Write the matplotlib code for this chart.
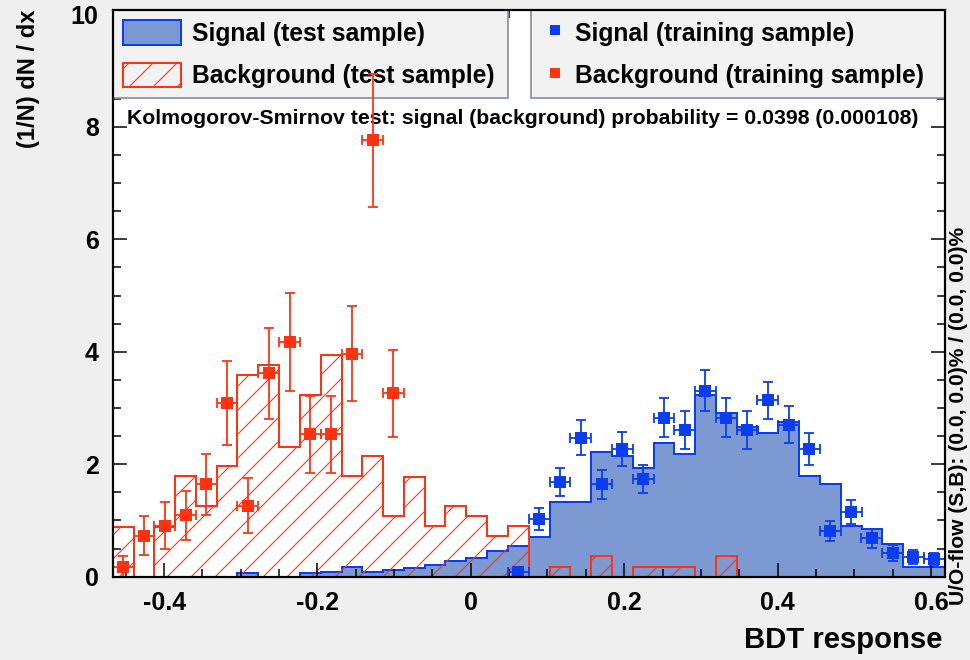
import numpy as np
import matplotlib
matplotlib.use("Agg")
import matplotlib.pyplot as plt
from matplotlib.patches import Patch
from matplotlib.lines import Line2D
from matplotlib.ticker import MultipleLocator

# ---------------- data ----------------
x_min, x_max, n_bins = -0.467, 0.618, 40

sig_test = [0, 0, 0, 0, 0, 0, 0.06, 0, 0, 0.06,
            0.09, 0.18, 0.09, 0.12, 0.15, 0.21, 0.28, 0.33, 0.46, 0.55,
            0.70, 1.32, 1.32, 2.21, 2.15, 1.94, 2.38, 2.18, 3.23, 2.91,
            2.67, 2.56, 2.76, 1.79, 1.64, 0.91, 0.85, 0.59, 0.18, 0.18]

bkg_test = [0.89, 0, 0.89, 1.79, 1.26, 1.97, 3.58, 3.77, 2.31, 3.23,
            3.94, 1.79, 2.14, 1.08, 1.78, 0.91, 1.26, 1.08, 0.73, 0.91,
            0, 0.18, 0, 0.36, 0, 0.18, 0.18, 0.18, 0, 0.36,
            0, 0, 0, 0, 0, 0, 0, 0, 0, 0]

bkg_train_bins = list(range(0, 14))
bkg_train = [0.18, 0.73, 0.91, 1.09, 1.64, 3.09, 1.26, 3.62, 4.17, 2.53,
             2.53, 3.97, 7.76, 3.26]
bkg_train_err = [0.18, 0.35, 0.41, 0.44, 0.55, 0.75, 0.49, 0.81, 0.87, 0.68,
                 0.68, 0.84, 1.19, 0.77]

sig_train_bins = list(range(19, 40))
sig_train = [0.09, 1.03, 1.68, 2.47, 1.64, 2.27, 1.73, 2.83, 2.61, 3.31,
             2.83, 2.61, 3.14, 2.70, 2.27, 0.81, 1.15, 0.68, 0.42, 0.35, 0.31]
sig_train_err = [0.09, 0.20, 0.25, 0.31, 0.25, 0.30, 0.25, 0.34, 0.33, 0.36,
                 0.34, 0.33, 0.33, 0.33, 0.29, 0.18, 0.21, 0.17, 0.14, 0.12, 0.11]

x_ticks = [-0.4, -0.2, 0, 0.2, 0.4, 0.6]
x_tick_labels = ["-0.4", "-0.2", "0", "0.2", "0.4", "0.6"]
y_ticks = [0, 2, 4, 6, 8, 10]
y_tick_labels = ["0", "2", "4", "6", "8", "10"]

ks_text = "Kolmogorov-Smirnov test: signal (background) probability = 0.0398 (0.000108)"
flow_text = "U/O-flow (S,B): (0.0, 0.0)% / (0.0, 0.0)%"

# ---------------- style ----------------
SIG_FILL = "#7d99d1"
SIG_LINE = "#0a3cf0"
BKG_LINE = "#ff3311"
DPI = 144

plt.rcParams["font.family"] = ["Liberation Sans", "DejaVu Sans"]
plt.rcParams["font.weight"] = "bold"
plt.rcParams["hatch.linewidth"] = 0.55

fig = plt.figure(figsize=(970 / DPI, 660 / DPI), dpi=DPI, facecolor="#efefef")
ax = fig.add_axes([112.7 / 970, 1 - 576.7 / 660, (944.7 - 112.7) / 970, (576.7 - 10) / 660])
ax.set_facecolor("white")

edges = np.linspace(x_min, x_max, n_bins + 1)
centers = 0.5 * (edges[:-1] + edges[1:])
half_w = 0.5 * (edges[1] - edges[0])

# signal test: filled
ax.stairs(sig_test, edges, fill=True, facecolor=SIG_FILL, edgecolor="none", zorder=1)
ax.stairs(sig_test, edges, baseline=0, fill=False, color=SIG_LINE, linewidth=1.0, zorder=1.2)
# background test: hatched
ax.stairs(bkg_test, edges, fill=True, facecolor="none", edgecolor=BKG_LINE,
          hatch="//", linewidth=0, zorder=1.4)
ax.stairs(bkg_test, edges, baseline=0, fill=False, color=BKG_LINE, linewidth=1.0, zorder=1.6)

# training points
bx = [centers[i] for i in bkg_train_bins]
sx = [centers[i] for i in sig_train_bins]
ax.errorbar(bx, bkg_train, yerr=bkg_train_err, xerr=half_w, fmt="s", color=BKG_LINE,
            markersize=4.8, elinewidth=0.9, capsize=2.4, capthick=0.9, zorder=4)
ax.errorbar(sx, sig_train, yerr=sig_train_err, xerr=half_w, fmt="s", color=SIG_LINE,
            markersize=4.8, elinewidth=0.9, capsize=2.4, capthick=0.9, zorder=4)

ax.set_xlim(x_min, x_max)
ax.set_ylim(0, 10.08)

ax.set_xticks(x_ticks)
ax.set_xticklabels(x_tick_labels)
ax.set_yticks(y_ticks)
ax.set_yticklabels(y_tick_labels)
ax.xaxis.set_minor_locator(MultipleLocator(0.05))
ax.yaxis.set_minor_locator(MultipleLocator(0.5))
ax.tick_params(which="both", direction="in", top=True, right=True, width=0.75, colors="black")
ax.tick_params(which="major", length=7, labelsize=12.5, pad=7)
ax.tick_params(which="minor", length=4)
for lab in ax.get_xticklabels() + ax.get_yticklabels():
    lab.set_fontweight("bold")
for sp in ax.spines.values():
    sp.set_linewidth(1.1)
    sp.set_zorder(5)

fig.text(943 / 970, 1 - 640 / 660, "BDT response", ha="right", va="center",
         fontsize=14.6, fontweight="bold")
fig.text(28 / 970, 1 - 10 / 660, "(1/N) dN / dx", ha="center", va="top",
         rotation=90, fontsize=11.8, fontweight="bold")
fig.text(959 / 970, 1 - 605 / 660, flow_text, ha="center", va="bottom",
         rotation=90, fontsize=10.5, fontweight="bold")

ax.text((127 - 112.7) / 832, (576.7 - 118) / 566.7, ks_text, transform=ax.transAxes,
        ha="left", va="center", fontsize=10.6, fontweight="bold", zorder=3)

# legends
h_left = [Patch(facecolor=SIG_FILL, edgecolor=SIG_LINE, linewidth=1.0),
          Patch(facecolor="none", edgecolor=BKG_LINE, hatch="//", linewidth=1.0)]
l_left = ["Signal (test sample)", "Background (test sample)"]
h_right = [Line2D([], [], marker="s", linestyle="none", color=SIG_LINE, markersize=3.8),
           Line2D([], [], marker="s", linestyle="none", color=BKG_LINE, markersize=3.8)]
l_right = ["Signal (training sample)", "Background (training sample)"]

common = dict(loc="upper left", mode="expand", borderaxespad=0, fancybox=False,
              framealpha=1, facecolor="#f2f2f2", edgecolor="#8a95a8",
              prop={"size": 12.3, "weight": "bold"}, labelspacing=0.69, borderpad=0.4,
              handleheight=1.18)
leg1 = ax.legend(h_left, l_left, bbox_to_anchor=(0, 0, (508 - 112.7) / 832, 1.0),
                 handlelength=2.36, handletextpad=0.45, **common)
leg1.get_frame().set_linewidth(0.9)
leg1.set_zorder(2)
ax.add_artist(leg1)
leg2 = ax.legend(h_right, l_right, bbox_to_anchor=((531 - 112.7) / 832, 0, (944.7 - 531) / 832, 1.0),
                 handlelength=1.19, handletextpad=0.19, **common)
leg2.get_frame().set_linewidth(0.9)
leg2.set_zorder(2)

fig.savefig("out.png", dpi=DPI, facecolor=fig.get_facecolor())
